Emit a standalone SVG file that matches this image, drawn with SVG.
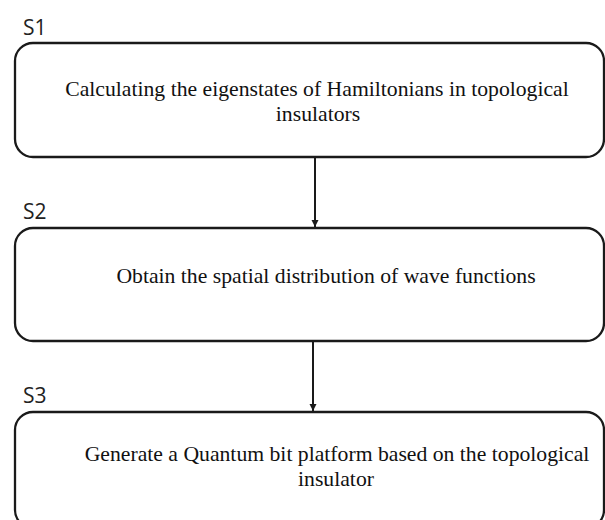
<svg xmlns="http://www.w3.org/2000/svg" width="605" height="520" viewBox="0 0 605 520">
<defs>
<style>
.box{fill:#fff;stroke:#1a1a1a;stroke-width:2.3}
.lbl{font-family:"Open Sans","Liberation Sans",sans-serif;font-size:21px;fill:#222}
.txt{font-family:"Liberation Serif","Times New Roman",serif;font-size:21.7px;fill:#111;text-anchor:middle}
.conn{stroke:#1a1a1a;stroke-width:2;fill:none}
</style>
<marker id="ah" viewBox="0 0 10 10" refX="10" refY="5" markerWidth="3.6" markerHeight="3.6" orient="auto" markerUnits="strokeWidth">
<path d="M0,0 L10,5 L0,10 z" fill="#1a1a1a"/>
</marker>
</defs>
<rect width="605" height="520" fill="#fff"/>
<g id="S1">
<text class="lbl" x="23" y="35">S1</text>
<rect class="box" x="15" y="43" width="589" height="114" rx="18" ry="18"/>
<text class="txt" x="317" y="96">Calculating the eigenstates of Hamiltonians in topological</text>
<text class="txt" x="318" y="121">insulators</text>
</g>
<g id="S2">
<text class="lbl" x="23" y="219">S2</text>
<rect class="box" x="15" y="228" width="589" height="113" rx="18" ry="18"/>
<text class="txt" x="326" y="283">Obtain the spatial distribution of wave functions</text>
</g>
<g id="S3">
<text class="lbl" x="23" y="403">S3</text>
<rect class="box" x="15" y="412" width="589" height="116" rx="18" ry="18"/>
<text class="txt" x="337" y="461">Generate a Quantum bit platform based on the topological</text>
<text class="txt" x="336" y="486">insulator</text>
</g>
<g id="connectors">
<line class="conn" x1="315" y1="158" x2="315" y2="227" marker-end="url(#ah)"/>
<line class="conn" x1="313" y1="342" x2="313" y2="411" marker-end="url(#ah)"/>
</g>
</svg>
